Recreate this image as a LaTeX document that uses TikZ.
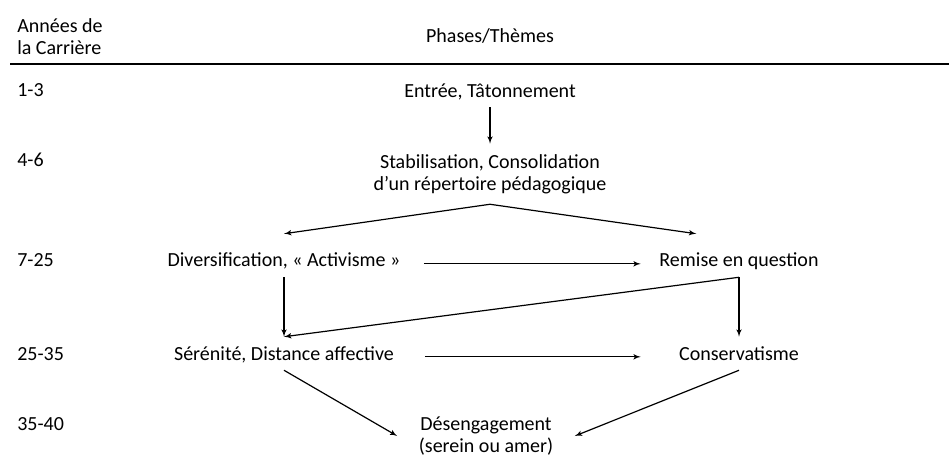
\documentclass[tikz,border=0pt]{standalone}
\usepackage{fontspec}
\setmainfont{Carlito}
\usepackage{tikz}
\usetikzlibrary{arrows}
\begin{document}
\begin{tikzpicture}[x=0.75pt,y=-0.75pt]
        \tikzset{txt/.style = {inner sep=0pt, font=\fontsize{15}{16.5}\selectfont}}
        \tikzset{year/.style = {txt, anchor=base west}}
        \tikzset{phase/.style = {txt, anchor=base}}
        \tikzset{phasec/.style = {txt, align=center}}
        \tikzset{edged/.style = {->,> = latex', line width=0.9pt}}
        \useasboundingbox (0,0) rectangle (949,463);
        % header
        \node[txt, align=left, anchor=west] (head1) at (17,37) {Années de\\la Carrière};
        \node[phase] (head2) at (490,43) {Phases/Thèmes};
        \draw[line width=1.5pt] (10,64) -- (949,64);
        % years
        \node[year] (y1) at (17,97) {1-3};
        \node[year] (y2) at (17,167) {4-6};
        \node[year] (y3) at (17,267) {7-25};
        \node[year] (y4) at (17,360) {25-35};
        \node[year] (y5) at (17,430) {35-40};
        % phases
        \node[phase, text height=9.75pt, text depth=6.75pt] (entree) at (490,98) {Entrée, Tâtonnement};
        \node[phasec, minimum height=45pt] (stab) at (490,174) {Stabilisation, Consolidation\\d’un répertoire pédagogique};
        \node[phase, text height=24.75pt, text depth=7.5pt, minimum width=209.25pt] (div) at (284,267) {Diversification, « Activisme »};
        \node[phase, text height=24.75pt, text depth=7.5pt, minimum width=147pt] (remise) at (739,267) {Remise en question};
        \node[phase, text height=17.25pt, text depth=7.5pt, minimum width=210.75pt] (seren) at (284,360) {Sérénité, Distance affective};
        \node[phase, text height=17.25pt, text depth=7.5pt, minimum width=147pt] (cons) at (739,360) {Conservatisme};
        \node[phasec, minimum width=132.75pt] (deseng) at (486,436) {Désengagement\\(serein ou amer)};

        %edges
        \draw[edged] (entree) -- (stab);
        \draw[edged] (stab.south) -- (div.north);
        \draw[edged] (stab.south) -- (remise.153);
        \draw[edged] (div.mid east) -- (remise.mid west);
        \draw[edged] (div.south) -- (seren.north);
        \draw[edged] (remise.south) -- (seren.north);
        \draw[edged] (remise.south) -- (cons.north);
        \draw[edged] (seren.mid east) -- (cons.mid west);
        \draw[edged] (seren.south) -- (deseng.west);
        \draw[edged] (cons.south) -- (deseng.east);
\end{tikzpicture}
\end{document}
